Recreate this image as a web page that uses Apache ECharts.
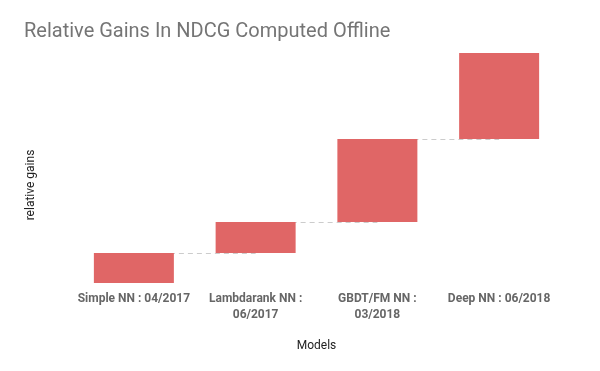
<!DOCTYPE html>
<html>
<head>
<meta charset="utf-8">
<script src="https://cdn.jsdelivr.net/npm/echarts@6/dist/echarts.min.js"></script>
<style>
html, body { margin: 0; padding: 0; background: #fff; }
#chart { width: 600px; height: 371px; }
</style>
</head>
<body>
<div id="chart"></div>
<script>
var models = ['Simple NN : 04/2017', 'Lambdarank NN :\n06/2017', 'GBDT/FM NN :\n03/2018', 'Deep NN : 06/2018'];
var gains = [30, 31, 83, 86];   // relative gain per model (no scale shown in the chart)

// running totals -> invisible base of each floating bar
var base = [];
var total = 0;
gains.forEach(function (g) { base.push(total); total += g; });

// dashed connectors from the top of one bar to the next
var links = [];
for (var i = 0; i < gains.length - 1; i++) {
	links.push([{ coord: [i, base[i] + gains[i]] }, { coord: [i + 1, base[i] + gains[i]] }]);
}

var myChart = echarts.init(document.getElementById('chart'));
var option = {
	animation: false,
	title: {
		text: 'Relative Gains In NDCG Computed Offline',
		left: 19,
		top: 17,
		textStyle: { fontFamily: 'Roboto', fontSize: 20, fontWeight: 'normal', color: '#757575' }
	},
	grid: { left: 73, right: 40, top: 53, bottom: 88 },
	xAxis: {
		type: 'category',
		data: models,
		name: 'Models',
		nameLocation: 'middle',
		nameGap: 57,
		nameTextStyle: { fontFamily: 'Roboto', fontSize: 12, color: '#222' },
		axisLine: { show: false },
		axisTick: { show: false },
		axisLabel: { fontFamily: 'Roboto', fontSize: 12, fontWeight: 'bold', color: '#666', margin: 8, lineHeight: 16, interval: 0 }
	},
	yAxis: {
		type: 'value',
		min: 0,
		max: total,
		name: 'relative gains',
		nameLocation: 'middle',
		nameGap: 36,
		nameTextStyle: { fontFamily: 'Roboto', fontSize: 12, color: '#222', padding: [0, 34, 0, 0] },
		axisLine: { show: false },
		axisTick: { show: false },
		axisLabel: { show: false },
		splitLine: { show: false }
	},
	series: [
		{
			type: 'bar',
			stack: 'w',
			data: base,
			itemStyle: { color: 'transparent' },
			silent: true,
			z: 1,
			markLine: {
				symbol: 'none',
				silent: true,
				z: 1,
				label: { show: false },
				lineStyle: { color: '#cccccc', type: [5, 4], width: 1 },
				data: links
			}
		},
		{
			type: 'bar',
			stack: 'w',
			data: gains,
			barWidth: 80,
			itemStyle: { color: '#e06666' },
			z: 10
		}
	]
};
myChart.setOption(option);
</script>
</body>
</html>
